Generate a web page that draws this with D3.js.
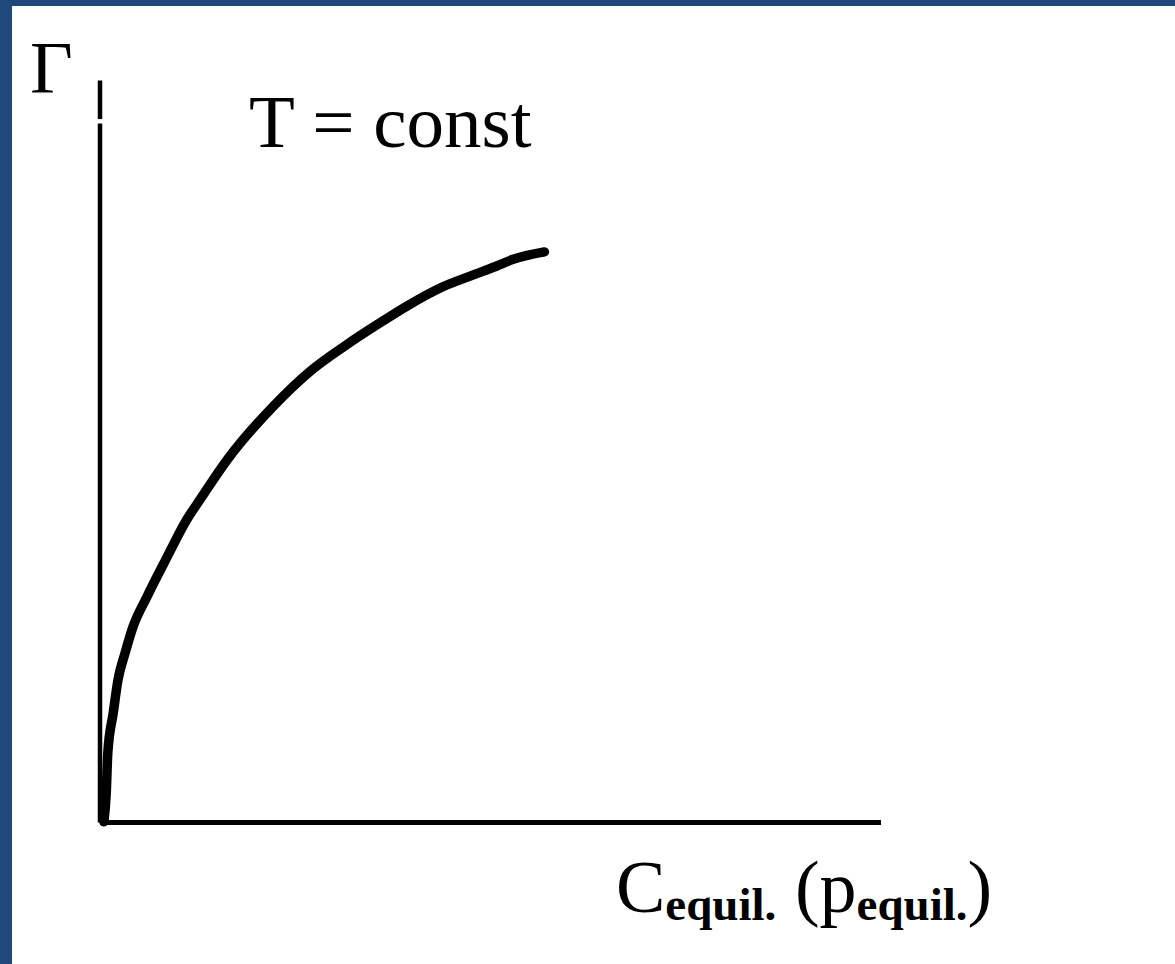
<!DOCTYPE html>
<html>
<head>
<meta charset="utf-8">
<script src="https://cdn.jsdelivr.net/npm/d3@7"></script>
<style>
  body { margin: 0; background: #fff; }
  text { font-family: "Liberation Serif", "Times New Roman", serif; fill: #000; }
</style>
</head>
<body>
<div class="container"></div>
<script>
// isotherm sketch, values (arbitrary units)
const conc  = [0.05, 0.08, 0.10, 0.17, 0.23, 0.32, 0.42, 0.60, 0.86, 1.11, 1.28,
               1.63, 2.22, 2.69, 3.16, 3.55, 3.93, 4.39, 4.78, 5.08, 5.29, 5.69];
const gamma = [0.01, 0.40, 0.94, 1.48, 1.92, 2.28, 2.63, 3.04, 3.58, 4.08, 4.35,
               4.89, 5.61, 6.08, 6.44, 6.71, 6.96, 7.22, 7.38, 7.50, 7.59, 7.69];
const axisMax = [10, 10];
const yAxisGap = [9.42, 9.48];

const width = 1175, height = 964;

const svg = d3.select(".container")
    .append("svg")
    .attr("width", width)
    .attr("height", height);

// slide frame
svg.append("rect")
    .attr("width", width).attr("height", height)
    .attr("fill", "#1f487c");
svg.append("rect")
    .attr("x", 12).attr("y", 6)
    .attr("width", width - 12).attr("height", height - 6)
    .attr("fill", "#fff");

const xScale = d3.scaleLinear().domain([0, axisMax[0]]).range([100, 881]);
const yScale = d3.scaleLinear().domain([0, axisMax[1]]).range([822.5, 80.5]);

// axes as plain lines
svg.append("line")
    .attr("x1", xScale(0)).attr("x2", xScale(axisMax[0]))
    .attr("y1", yScale(0)).attr("y2", yScale(0))
    .attr("stroke", "#000").attr("stroke-width", 5);

const ySegments = [[0, yAxisGap[0]], [yAxisGap[1], axisMax[1]]];
svg.selectAll(".y-seg")
    .data(ySegments)
    .enter()
    .append("line")
    .attr("class", "y-seg")
    .attr("x1", xScale(0)).attr("x2", xScale(0))
    .attr("y1", d => yScale(d[0])).attr("y2", d => yScale(d[1]))
    .attr("stroke", "#000").attr("stroke-width", 4.5);

// curve
const points = conc.map((c, i) => [c, gamma[i]]);
const line = d3.line()
    .x(d => xScale(d[0]))
    .y(d => yScale(d[1]))
    .curve(d3.curveMonotoneX);

svg.append("path")
    .datum(points)
    .attr("d", line)
    .attr("fill", "none")
    .attr("stroke", "#000")
    .attr("stroke-width", 9.5)
    .attr("stroke-linecap", "round")
    .attr("stroke-linejoin", "round");

// labels
svg.append("text")
    .attr("x", 30).attr("y", 93)
    .attr("font-size", 74)
    .text("Γ");

svg.append("text")
    .attr("x", 249).attr("y", 147)
    .attr("font-size", 75)
    .text("T = const");

const xLabel = svg.append("text")
    .attr("x", 616).attr("y", 912)
    .attr("font-size", 74)
    .attr("xml:space", "preserve");
xLabel.append("tspan").text("C");
xLabel.append("tspan").attr("font-size", 47).attr("font-weight", "bold").attr("dy", 8).text("equil.");
xLabel.append("tspan").attr("dy", -8).text(" (p");
xLabel.append("tspan").attr("font-size", 47).attr("font-weight", "bold").attr("dy", 8).text("equil.");
xLabel.append("tspan").attr("dy", -8).text(")");
</script>
</body>
</html>
